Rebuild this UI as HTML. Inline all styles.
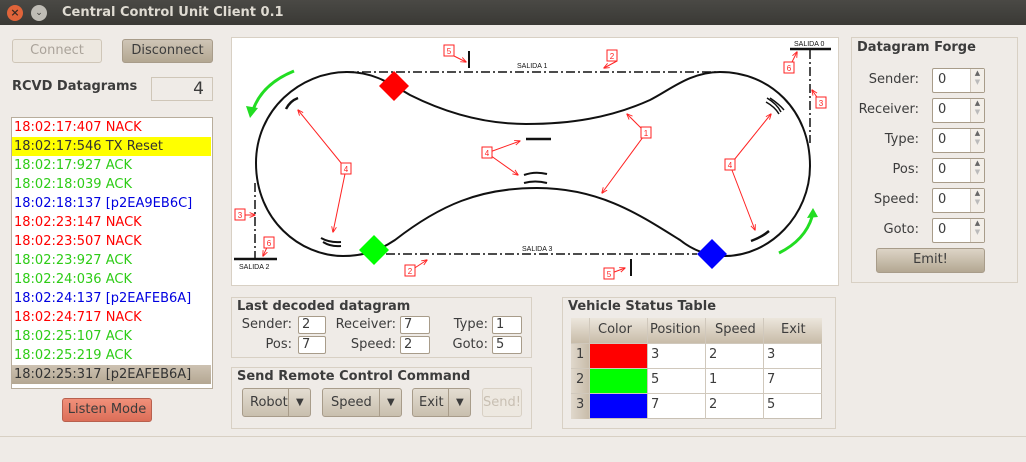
<!DOCTYPE html>
<html><head><meta charset="utf-8"><style>
*{box-sizing:border-box;margin:0;padding:0}
body{width:1026px;height:462px;background:#efebe7;font-family:"DejaVu Sans","Liberation Sans",sans-serif;font-size:13px;color:#3c3c3c;position:relative;overflow:hidden}
.a{position:absolute}
.title{left:0;top:0;width:1026px;height:25px;background:linear-gradient(#4a4945,#3a3935);}
.btn{position:absolute;border:1px solid #a89c8a;border-radius:3px;background:linear-gradient(#e4ddd2,#c9bfae);text-align:center;line-height:21px}
.frame{position:absolute;border:1px solid #d8d0c4}
.ft{position:absolute;font-weight:bold;font-size:13px;color:#3c3c3c;left:5px;top:1px}
.lbl{position:absolute;text-align:right;font-size:13px}
.ent{position:absolute;background:#fff;border:1px solid #a89c8a;border-radius:2px;height:18px;padding-left:3px;line-height:16px;font-size:13px}
.row{position:absolute;left:0;width:199px;height:19px;line-height:19px;padding-left:2px;font-size:13px}
</style></head><body>
<div class="a title"></div>
<div class="a" style="left:7px;top:5px;width:16px;height:16px;border-radius:50%;background:#e0643a;color:#3a2a22;font-size:11px;text-align:center;line-height:16px;font-weight:bold">×</div>
<div class="a" style="left:31px;top:5px;width:16px;height:16px;border-radius:50%;background:#bfbcb5;color:#3a3935;font-size:9px;text-align:center;line-height:16px">⌄</div>
<div class="a" style="left:62px;top:5px;color:#dfdbd2;font-weight:bold;font-size:13px">Central Control Unit Client 0.1</div>

<div class="btn" style="left:12px;top:39px;width:90px;height:24px;background:#ede8e0;border-color:#cfc6b8;color:#aaa39a">Connect</div>
<div class="btn" style="left:122px;top:39px;width:91px;height:24px;background:linear-gradient(#cfc5b6,#b3a792)">Disconnect</div>
<div class="a" style="left:12px;top:79px;font-weight:bold;font-size:13px">RCVD Datagrams</div>
<div class="a" style="left:151px;top:77px;width:62px;height:24px;border:1px solid #cfc6b8;text-align:right;padding-right:8px;font-size:17px;line-height:22px">4</div>

<div class="a" style="left:11px;top:117px;width:202px;height:272px;background:#fff;border:1px solid #b8ad9c;overflow:hidden">
<div class="row" style="top:0;color:#f00">18:02:17:407 NACK</div>
<div class="row" style="top:19px;background:#ff0;color:#333">18:02:17:546 TX Reset</div>
<div class="row" style="top:38px;color:#2ecc17">18:02:17:927 ACK</div>
<div class="row" style="top:57px;color:#2ecc17">18:02:18:039 ACK</div>
<div class="row" style="top:76px;color:#0000e0">18:02:18:137 [p2EA9EB6C]</div>
<div class="row" style="top:95px;color:#f00">18:02:23:147 NACK</div>
<div class="row" style="top:114px;color:#f00">18:02:23:507 NACK</div>
<div class="row" style="top:133px;color:#2ecc17">18:02:23:927 ACK</div>
<div class="row" style="top:152px;color:#2ecc17">18:02:24:036 ACK</div>
<div class="row" style="top:171px;color:#0000e0">18:02:24:137 [p2EAFEB6A]</div>
<div class="row" style="top:190px;color:#f00">18:02:24:717 NACK</div>
<div class="row" style="top:209px;color:#2ecc17">18:02:25:107 ACK</div>
<div class="row" style="top:228px;color:#2ecc17">18:02:25:219 ACK</div>
<div class="row" style="top:247px;background:linear-gradient(#cdc2b2,#b4a792);color:#333">18:02:25:317 [p2EAFEB6A]</div>
</div>
<div class="btn" style="left:62px;top:398px;width:90px;height:24px;background:linear-gradient(#f0907a,#dc6e58);border-color:#b8604e">Listen Mode</div>

<div class="a" style="left:231px;top:37px;width:608px;height:249px;background:#fff;border:1px solid #d8d0c4"></div>
<svg class="a" style="left:0;top:0" width="1026" height="462" viewBox="0 0 1026 462">
<defs><marker id="ar" viewBox="0 0 10 10" refX="9" refY="5" markerWidth="6" markerHeight="6" orient="auto"><path d="M0,1 L10,5 L0,9" fill="none" stroke="#f22" stroke-width="1.5"/></marker></defs>
<g fill="none" stroke="#111" stroke-width="2">
<path d="M347,72 C300,72 256,110 256,163 C256,220 300,256 343,256 C365,256 380,250 395,240 C440,205 480,188 537,188 C600,188 640,215 680,240 C695,252 710,256 725,256 C770,256 810,215 810,166 C810,110 770,72 720,72 C690,72 670,90 650,100 C610,118 570,124 526,124 C480,124 440,110 410,95 C385,80 370,72 347,72 Z"/>
<path d="M286,109 Q290,101 298,98" stroke-width="2.5"/>
<path d="M321,238 Q330,243 341,242 M323,242 Q331,247 341,246" stroke-width="2"/>
<path d="M526,139 L551,139" stroke-width="2.5"/>
<path d="M524,175 Q535,171 547,174 M524,183 Q535,180 547,183" stroke-width="2"/>
<path d="M767,98 Q777,104 781,112 M770,98 Q779,104 784,110 M766,102 Q775,107 779,114" stroke-width="1.5"/>
<path d="M751,241 Q762,237 769,231" stroke-width="2.5"/>
<path d="M469,51 V68 M631,259 V276" stroke-width="2"/>
<path d="M790,49 H831 M234,259 H277" stroke-width="2.5"/>
</g>
<g fill="none" stroke="#111" stroke-width="1.5" stroke-dasharray="9,3,2,3">
<path d="M345,72 H720 M810,50 V143 M255,183 V259 M386,254 H697"/>
</g>
<g font-family="Liberation Sans,sans-serif" font-size="7" fill="#111">
<text x="517" y="68">SALIDA 1</text><text x="794" y="46">SALIDA 0</text>
<text x="239" y="269">SALIDA 2</text><text x="522" y="251">SALIDA 3</text>
</g>
<polygon points="394,71 409,86 394,101 379,86" fill="#f00"/>
<polygon points="374,235 389,250 374,265 359,250" fill="#0f0"/>
<polygon points="712,239 727,254 712,269 697,254" fill="#00f"/>
<g fill="none" stroke="#2d2" stroke-width="3">
<path d="M294,71 Q262,84 253,110"/><path d="M779,253 Q805,240 812,217"/>
</g>
<polygon points="246,106 258,108 250,118" fill="#2d2"/><polygon points="807,218 818,217 813,208" fill="#2d2"/>
<g stroke="#f22" stroke-width="1" fill="none" marker-end="url(#ar)">
<path d="M454,56 L466,62"/><path d="M617,61 L604,68"/><path d="M789,68 L797,52"/><path d="M821,103 L812,90"/><path d="M646,133 L627,114"/><path d="M646,133 L602,193"/><path d="M487,153 L520,141"/><path d="M487,153 L518,175"/><path d="M346,169 L298,110"/><path d="M346,169 L333,232"/><path d="M730,165 L771,114"/><path d="M730,165 L755,230"/><path d="M241,215 L255,215"/><path d="M269,243 L263,256"/><path d="M410,271 L427,260"/><path d="M609,274 L625,268"/>
</g>
<g font-family="Liberation Sans,sans-serif" font-size="8" fill="#f22" text-anchor="middle">
<g fill="#fff" stroke="#f22" stroke-width="1">
<rect x="444" y="45" width="10" height="11"/><rect x="607" y="50" width="10" height="11"/><rect x="784" y="62" width="10" height="11"/><rect x="816" y="97" width="10" height="11"/><rect x="641" y="127" width="10" height="11"/><rect x="482" y="147" width="10" height="11"/><rect x="341" y="163" width="10" height="11"/><rect x="725" y="159" width="10" height="11"/><rect x="235" y="209" width="10" height="11"/><rect x="264" y="237" width="10" height="11"/><rect x="405" y="265" width="10" height="11"/><rect x="604" y="268" width="10" height="11"/>
</g>
<text x="449" y="54">5</text><text x="612" y="59">2</text><text x="789" y="71">6</text><text x="821" y="106">3</text><text x="646" y="136">1</text><text x="487" y="156">4</text><text x="346" y="172">4</text><text x="730" y="168">4</text><text x="240" y="218">3</text><text x="269" y="246">6</text><text x="410" y="274">2</text><text x="609" y="277">5</text>
</g>
</svg>

<div class="frame" style="left:231px;top:297px;width:301px;height:61px"><div class="ft">Last decoded datagram</div></div>
<div class="lbl" style="left:230px;top:317px;width:62px">Sender:</div><div class="ent" style="left:298px;top:316px;width:28px">2</div>
<div class="lbl" style="left:320px;top:317px;width:76px">Receiver:</div><div class="ent" style="left:400px;top:316px;width:30px">7</div>
<div class="lbl" style="left:440px;top:317px;width:48px">Type:</div><div class="ent" style="left:492px;top:316px;width:30px">1</div>
<div class="lbl" style="left:230px;top:337px;width:62px">Pos:</div><div class="ent" style="left:298px;top:336px;width:28px">7</div>
<div class="lbl" style="left:320px;top:337px;width:76px">Speed:</div><div class="ent" style="left:400px;top:336px;width:30px">2</div>
<div class="lbl" style="left:440px;top:337px;width:48px">Goto:</div><div class="ent" style="left:492px;top:336px;width:30px">5</div>

<div class="frame" style="left:231px;top:367px;width:301px;height:62px"><div class="ft">Send Remote Control Command</div></div>
<div class="btn" style="left:242px;top:388px;width:69px;height:29px;line-height:27px;text-align:left;padding-left:7px">Robot<span class="a" style="left:45px;top:0;height:27px;border-left:1px solid #a89c8a;padding-left:7px;font-size:10px">▼</span></div>
<div class="btn" style="left:322px;top:388px;width:80px;height:29px;line-height:27px;text-align:left;padding-left:8px">Speed<span class="a" style="left:56px;top:0;height:27px;border-left:1px solid #a89c8a;padding-left:7px;font-size:10px">▼</span></div>
<div class="btn" style="left:412px;top:388px;width:59px;height:29px;line-height:27px;text-align:left;padding-left:6px">Exit<span class="a" style="left:35px;top:0;height:27px;border-left:1px solid #a89c8a;padding-left:7px;font-size:10px">▼</span></div>
<div class="btn" style="left:482px;top:388px;width:40px;height:29px;line-height:27px;background:#ede8e0;border-color:#d8d0c4;color:#c8bfb2">Send!</div>

<div class="frame" style="left:562px;top:297px;width:274px;height:132px"><div class="ft">Vehicle Status Table</div></div>
<div class="a" style="left:571px;top:318px;width:251px;height:101px;background:#fff;border:1px solid #c8c0b4"></div>
<div class="a" style="left:571px;top:318px;width:251px;height:25px;background:linear-gradient(#ece6dc,#c8bca9)"></div>
<div class="a" style="left:571px;top:343px;width:18px;height:76px;background:linear-gradient(90deg,#e0d8cc,#c8bca9)"></div>
<div class="a" style="left:590px;top:344px;width:57px;height:24px;background:#f00"></div>
<div class="a" style="left:590px;top:369px;width:57px;height:24px;background:#0f0"></div>
<div class="a" style="left:590px;top:394px;width:57px;height:24px;background:#00f"></div>
<svg class="a" style="left:0;top:0" width="1026" height="462"><g stroke="#d0c8bc" stroke-width="1">
<path d="M589.5,318 V419 M647.5,318 V419 M705.5,318 V419 M763.5,318 V419 M571,343.5 H822 M571,368.5 H822 M571,393.5 H822"/></g></svg>
<div class="a" style="left:598px;top:322px">Color</div><div class="a" style="left:650px;top:322px">Position</div><div class="a" style="left:715px;top:322px">Speed</div><div class="a" style="left:781px;top:322px">Exit</div>
<div class="a" style="left:576px;top:347px">1</div><div class="a" style="left:576px;top:372px">2</div><div class="a" style="left:576px;top:397px">3</div>
<div class="a" style="left:651px;top:347px">3</div><div class="a" style="left:709px;top:347px">2</div><div class="a" style="left:767px;top:347px">3</div>
<div class="a" style="left:651px;top:372px">5</div><div class="a" style="left:709px;top:372px">1</div><div class="a" style="left:767px;top:372px">7</div>
<div class="a" style="left:651px;top:397px">7</div><div class="a" style="left:709px;top:397px">2</div><div class="a" style="left:767px;top:397px">5</div>

<div class="frame" style="left:851px;top:37px;width:167px;height:246px"><div class="ft" style="top:2px">Datagram Forge</div></div>
<div class="lbl" style="left:850px;top:72px;width:69px">Sender:</div>
<div class="lbl" style="left:850px;top:102px;width:69px">Receiver:</div>
<div class="lbl" style="left:850px;top:132px;width:69px">Type:</div>
<div class="lbl" style="left:850px;top:162px;width:69px">Pos:</div>
<div class="lbl" style="left:850px;top:192px;width:69px">Speed:</div>
<div class="lbl" style="left:850px;top:222px;width:69px">Goto:</div>
<div class="ent" style="left:932px;top:68px;width:53px;height:25px;line-height:22px;padding-left:5px">0<span class="a" style="left:37px;top:0;width:14px;height:23px;border-left:1px solid #d0c8bc;background:#f3efe9;font-size:7px;text-align:center;line-height:9px;color:#666">▲<br><span style="color:#bbb">▼</span></span></div>
<div class="ent" style="left:932px;top:98px;width:53px;height:25px;line-height:22px;padding-left:5px">0<span class="a" style="left:37px;top:0;width:14px;height:23px;border-left:1px solid #d0c8bc;background:#f3efe9;font-size:7px;text-align:center;line-height:9px;color:#666">▲<br><span style="color:#bbb">▼</span></span></div>
<div class="ent" style="left:932px;top:128px;width:53px;height:25px;line-height:22px;padding-left:5px">0<span class="a" style="left:37px;top:0;width:14px;height:23px;border-left:1px solid #d0c8bc;background:#f3efe9;font-size:7px;text-align:center;line-height:9px;color:#666">▲<br><span style="color:#bbb">▼</span></span></div>
<div class="ent" style="left:932px;top:158px;width:53px;height:25px;line-height:22px;padding-left:5px">0<span class="a" style="left:37px;top:0;width:14px;height:23px;border-left:1px solid #d0c8bc;background:#f3efe9;font-size:7px;text-align:center;line-height:9px;color:#666">▲<br><span style="color:#bbb">▼</span></span></div>
<div class="ent" style="left:932px;top:188px;width:53px;height:25px;line-height:22px;padding-left:5px">0<span class="a" style="left:37px;top:0;width:14px;height:23px;border-left:1px solid #d0c8bc;background:#f3efe9;font-size:7px;text-align:center;line-height:9px;color:#666">▲<br><span style="color:#bbb">▼</span></span></div>
<div class="ent" style="left:932px;top:218px;width:53px;height:25px;line-height:22px;padding-left:5px">0<span class="a" style="left:37px;top:0;width:14px;height:23px;border-left:1px solid #d0c8bc;background:#f3efe9;font-size:7px;text-align:center;line-height:9px;color:#666">▲<br><span style="color:#bbb">▼</span></span></div>
<div class="btn" style="left:876px;top:248px;width:109px;height:25px;background:linear-gradient(#ddd4c6,#b3a792)">Emit!</div>

<div class="a" style="left:0;top:436px;width:1026px;height:1px;background:#d8d0c4"></div>
</body></html>
